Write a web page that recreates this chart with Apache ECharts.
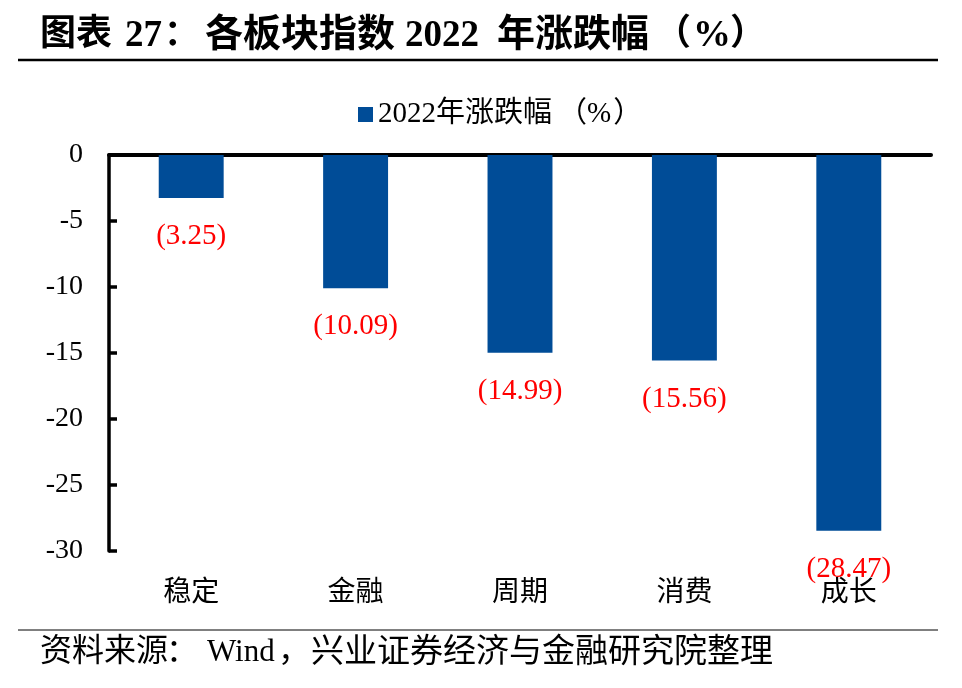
<!DOCTYPE html>
<html><head><meta charset="utf-8">
<script src="https://cdn.jsdelivr.net/npm/echarts@6/dist/echarts.min.js"></script>
<style>html,body{margin:0;padding:0;background:#fff}#c{width:962px;height:688px}</style>
</head><body><div id="c"></div>
<script>
const categories = ['稳定','金融','周期','消费','成长'];
const values = [-3.25, -10.09, -14.99, -15.56, -28.47];
const seriesName = '2022年涨跌幅（%）';
const titleParts = ['图表','27','：','各板块指数','2022','年涨跌幅','（','%','）'];
const sourceParts = ['资料来源','：','Wind','，','兴业证券经济与金融研究院整理'];
const FONT = '"Liberation Serif","Noto Sans CJK SC",serif';

// layout of the title / source pieces (x position, align, font)
const titleLayout = [
  [40,'left','bold 36px'],[125,'left','bold 37px'],[164,'left','bold 35px'],
  [205,'left','bold 38px'],[405,'left','bold 37px'],[497,'left','bold 38px'],
  [673,'center','bold 36px'],[712,'center','bold 38px'],[748,'center','bold 36px']
];
const sourceLayout = [
  [40,'left','32px'],[166,'left','32px'],[207,'left','31px'],[278,'left','32px'],[311,'left','33px']
];
const graphics = [];
titleParts.forEach((t,i)=>{
  const [x,al,f]=titleLayout[i];
  graphics.push({type:'text',x:x,y:36,style:{text:t,font:f+' '+FONT,fill:'#000',textAlign:al,textVerticalAlign:'middle'}});
});
sourceParts.forEach((t,i)=>{
  const [x,al,f]=sourceLayout[i];
  graphics.push({type:'text',x:x,y:653,style:{text:t,font:f+' '+FONT,fill:'#000',textAlign:al,textVerticalAlign:'middle'}});
});
graphics.push({type:'line',shape:{x1:18,y1:60,x2:938,y2:60},style:{stroke:'#000',lineWidth:2.5}});
graphics.push({type:'line',shape:{x1:18,y1:630,x2:938,y2:630},style:{stroke:'#000',lineWidth:1}});

const chart = echarts.init(document.getElementById('c'));
chart.setOption({
  animation:false,
  textStyle:{fontFamily:FONT},
  graphic:graphics,
  legend:{top:95,left:353,itemWidth:15,itemHeight:15,icon:'rect',itemGap:5,
    formatter:()=>'{n|2022}{c|年涨跌幅}{p1|（}{n|%}{p2|）}',
    textStyle:{fontSize:28,fontFamily:FONT,color:'#000',
      rich:{n:{fontSize:29,fontFamily:FONT},c:{fontSize:29,fontFamily:FONT},
            p1:{fontSize:29,fontFamily:FONT,padding:[0,0,0,6]},
            p2:{fontSize:29,fontFamily:FONT,padding:[0,0,0,2]}}},
    data:[seriesName]},
  grid:{left:109,right:31,top:155,bottom:137},
  xAxis:[
    {type:'category',data:categories,position:'top',
     axisLine:{onZero:false,lineStyle:{color:'#000',width:4}},
     axisTick:{show:false},axisLabel:{show:false}},
    {type:'category',data:categories,position:'bottom',
     axisLine:{show:false},axisTick:{show:false},
     axisLabel:{margin:29,fontSize:28,color:'#000',fontFamily:FONT}}
  ],
  yAxis:{type:'value',min:-30,max:0,interval:5,
    axisLine:{show:true,lineStyle:{color:'#000',width:3.5}},
    axisTick:{show:true,inside:true,length:8,lineStyle:{color:'#000',width:3.5}},
    splitLine:{show:false},
    axisLabel:{margin:26,fontSize:28,color:'#000',fontFamily:FONT}},
  series:[{name:seriesName,type:'bar',data:values,barWidth:'39.5%',xAxisIndex:0,
    itemStyle:{color:'#004C97'},
    label:{show:true,position:'bottom',distance:24,color:'#FF0000',fontSize:29,fontFamily:FONT,
      formatter:p=>'('+Math.abs(p.value).toFixed(2)+')'}}]
});
</script></body></html>
